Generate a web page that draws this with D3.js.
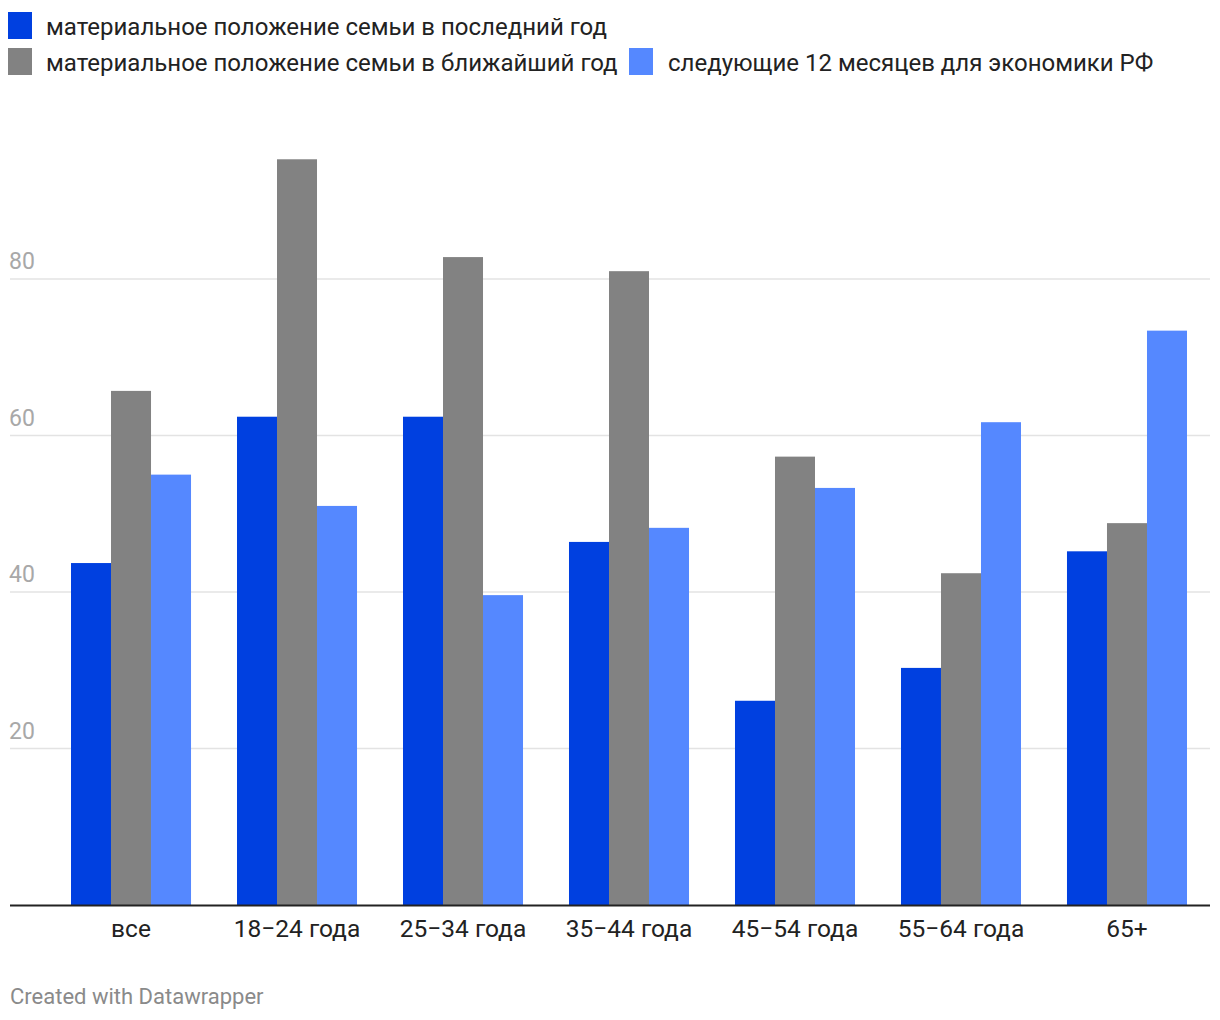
<!DOCTYPE html>
<html><head><meta charset="utf-8">
<script src="https://cdn.jsdelivr.net/npm/d3@7"></script>
<style>body{margin:0;background:#fff;font-family:Roboto,"Noto Sans",sans-serif;}</style>
</head><body>
<svg id="c" width="1220" height="1020"></svg>
<script>
const categories = ["все","18−24 года","25−34 года","35−44 года","45−54 года","55−64 года","65+"];
const seriesNames = ["материальное положение семьи в последний год","материальное положение семьи в ближайший год","следующие 12 месяцев для экономики РФ"];
const seriesColors = ["#0040e0","#828282","#5588ff"];
const lastYear = [43.7,62.4,62.4,46.4,26.1,30.3,45.2];
const nextYear = [65.7,95.3,82.8,81.0,57.3,42.4,48.8];
const economy = [55.0,51.0,39.6,48.2,53.3,61.7,73.4];
const yTicks = [20,40,60,80];

const series = [lastYear,nextYear,economy];
const svg = d3.select("#c");

const x = d3.scaleBand().domain(categories).range([48,1210]).paddingInner(0.277).paddingOuter(0.1386);
const xi = d3.scaleBand().domain([0,1,2]).range([0,x.bandwidth()]);
const y = d3.scaleLinear().domain([0,80]).range([905,279]);

// grid
const g = svg.append("g");
yTicks.forEach(t=>{
  g.append("line").attr("x1",10).attr("x2",1210).attr("y1",y(t)).attr("y2",y(t)).attr("stroke","#e3e3e3").attr("stroke-width",1.5);
  g.append("text").attr("x",9).attr("y",y(t)-10).text(t).attr("fill","#a8a8a8").attr("font-size",23);
});

// bars
categories.forEach((c,i)=>{
  series.forEach((s,j)=>{
    svg.append("rect").attr("x",x(c)+xi(j)).attr("width",xi.bandwidth())
      .attr("y",y(s[i])).attr("height",y(0)-y(s[i])).attr("fill",seriesColors[j]);
  });
});

// baseline
svg.append("line").attr("x1",10).attr("x2",1210).attr("y1",905.5).attr("y2",905.5).attr("stroke","#222").attr("stroke-width",2);

// x axis labels
const xa = svg.append("g").attr("transform","translate(0,905)").call(d3.axisBottom(x).tickSize(0).tickPadding(15));
xa.select(".domain").remove();
xa.selectAll("text").attr("font-size",24.5).attr("fill","#222").attr("font-family","Roboto");

// legend
const leg = [[8,12,46,35],[8,48,46,71],[629,48,668,71]];
seriesNames.forEach((n,j)=>{
  const [sx,sy,tx,ty]=leg[j];
  svg.append("rect").attr("x",sx).attr("y",sy).attr("width",24).attr("height",27).attr("fill",seriesColors[j]);
  svg.append("text").attr("x",tx).attr("y",ty).text(n).attr("font-size",24).attr("fill","#222");
});

svg.append("text").attr("x",10).attr("y",1004).text("Created with Datawrapper").attr("font-size",22).attr("fill","#8a8a8a");
</script>
</body></html>
